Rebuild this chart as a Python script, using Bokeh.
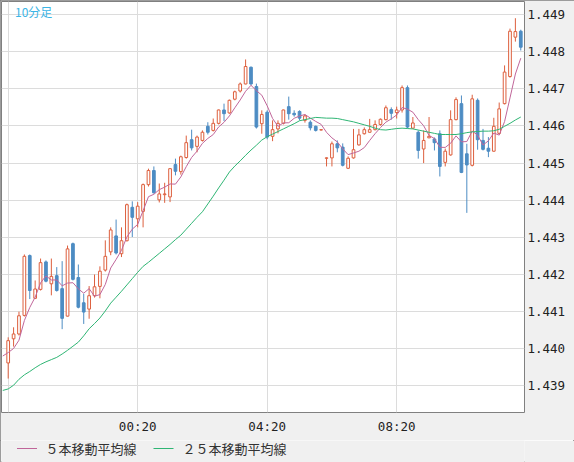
from bokeh.plotting import figure
from bokeh.layouts import column
from bokeh.models import Range1d, FixedTicker, Label, ColumnDataSource
from bokeh.core.properties import value
from bokeh.embed import file_html
from bokeh.resources import INLINE

# ---- data (10-minute bars, index 0 = 20:20) ----
bar_index = list(range(96))
opens = [1.43962, 1.44027, 1.44040, 1.44090, 1.44251, 1.44136, 1.44160, 1.44234, 1.44175, 1.44197,
         1.44162, 1.44088, 1.44283, 1.44192, 1.44124, 1.44107, 1.44143, 1.44168, 1.44212, 1.44261,
         1.44304, 1.44256, 1.44291, 1.44381, 1.44350, 1.44370, 1.44442, 1.44480, 1.44401, 1.44415,
         1.44409, 1.44496, 1.44477, 1.44515, 1.44563, 1.44545, 1.44561, 1.44599, 1.44588, 1.44607,
         1.44643, 1.44635, 1.44672, 1.44694, 1.44713, 1.44758, 1.44706, 1.44606, 1.44637, 1.44572,
         1.44592, 1.44607, 1.44652, 1.44634, 1.44639, 1.44615, 1.44610, 1.44599, 1.44589, 1.44513,
         1.44514, 1.44552, 1.44543, 1.44486, 1.44514, 1.44549, 1.44579, 1.44583, 1.44590, 1.44604,
         1.44617, 1.44644, 1.44636, 1.44643, 1.44703, 1.44594, 1.44583, 1.44538, 1.44568, 1.44565,
         1.44579, 1.44502, 1.44522, 1.44617, 1.44660, 1.44525, 1.44494, 1.44669, 1.44561, 1.44540,
         1.44532, 1.44580, 1.44660, 1.44733, 1.44839, 1.44855]
highs = [1.44031, 1.44058, 1.44100, 1.44254, 1.44254, 1.44184, 1.44243, 1.44238, 1.44243, 1.44220,
         1.44236, 1.44278, 1.44286, 1.44227, 1.44148, 1.44169, 1.44200, 1.44222, 1.44292, 1.44327,
         1.44348, 1.44327, 1.44391, 1.44397, 1.44395, 1.44445, 1.44485, 1.44491, 1.44445, 1.44447,
         1.44485, 1.44512, 1.44520, 1.44574, 1.44590, 1.44574, 1.44588, 1.44610, 1.44620, 1.44644,
         1.44660, 1.44671, 1.44695, 1.44717, 1.44779, 1.44760, 1.44714, 1.44642, 1.44642, 1.44615,
         1.44615, 1.44644, 1.44679, 1.44642, 1.44642, 1.44631, 1.44615, 1.44601, 1.44591, 1.44515,
         1.44558, 1.44561, 1.44553, 1.44518, 1.44592, 1.44592, 1.44596, 1.44619, 1.44615, 1.44620,
         1.44655, 1.44650, 1.44652, 1.44709, 1.44709, 1.44624, 1.44588, 1.44588, 1.44624, 1.44569,
         1.44588, 1.44539, 1.44642, 1.44677, 1.44682, 1.44552, 1.44684, 1.44674, 1.44592, 1.44570,
         1.44622, 1.44663, 1.44763, 1.44862, 1.44890, 1.44859]
lows = [1.43920, 1.44006, 1.44036, 1.44087, 1.44134, 1.44134, 1.44157, 1.44179, 1.44144, 1.44154,
        1.44053, 1.44087, 1.44184, 1.44109, 1.44067, 1.44081, 1.44138, 1.44136, 1.44208, 1.44252,
        1.44254, 1.44247, 1.44289, 1.44301, 1.44327, 1.44327, 1.44437, 1.44418, 1.44394, 1.44393,
        1.44395, 1.44467, 1.44469, 1.44512, 1.44534, 1.44529, 1.44558, 1.44577, 1.44585, 1.44604,
        1.44613, 1.44633, 1.44669, 1.44690, 1.44712, 1.44709, 1.44593, 1.44579, 1.44564, 1.44559,
        1.44580, 1.44604, 1.44617, 1.44625, 1.44615, 1.44609, 1.44588, 1.44585, 1.44588, 1.44491,
        1.44491, 1.44529, 1.44491, 1.44484, 1.44512, 1.44547, 1.44577, 1.44582, 1.44588, 1.44601,
        1.44615, 1.44617, 1.44620, 1.44636, 1.44593, 1.44593, 1.44512, 1.44500, 1.44567, 1.44534,
        1.44464, 1.44491, 1.44520, 1.44615, 1.44473, 1.44366, 1.44491, 1.44536, 1.44534, 1.44516,
        1.44531, 1.44580, 1.44658, 1.44730, 1.44827, 1.44803]
closes = [1.44022, 1.44040, 1.44089, 1.44249, 1.44157, 1.44161, 1.44232, 1.44182, 1.44195, 1.44157,
          1.44082, 1.44269, 1.44187, 1.44112, 1.44099, 1.44143, 1.44167, 1.44209, 1.44249, 1.44320,
          1.44258, 1.44291, 1.44388, 1.44354, 1.44384, 1.44442, 1.44480, 1.44420, 1.44417, 1.44417,
          1.44485, 1.44478, 1.44517, 1.44555, 1.44541, 1.44570, 1.44583, 1.44583, 1.44607, 1.44643,
          1.44633, 1.44669, 1.44692, 1.44713, 1.44760, 1.44713, 1.44597, 1.44631, 1.44570, 1.44590,
          1.44607, 1.44643, 1.44633, 1.44630, 1.44621, 1.44627, 1.44595, 1.44588, 1.44590, 1.44514,
          1.44552, 1.44541, 1.44494, 1.44513, 1.44536, 1.44576, 1.44590, 1.44590, 1.44604, 1.44618,
          1.44649, 1.44634, 1.44643, 1.44703, 1.44597, 1.44608, 1.44534, 1.44561, 1.44572, 1.44555,
          1.44491, 1.44532, 1.44617, 1.44671, 1.44475, 1.44495, 1.44673, 1.44563, 1.44537, 1.44532,
          1.44599, 1.44646, 1.44745, 1.44855, 1.44854, 1.44812]
# closes of the five bars before the visible window (estimated)
prior_closes = [1.43975, 1.43985, 1.43978, 1.43984, 1.43981]
# 25-bar moving average as drawn, bars -1 .. 95
ma25 = [1.43888, 1.43892, 1.43902, 1.43918, 1.43930, 1.43939, 1.43949, 1.43958, 1.43965, 1.43971,
        1.43977, 1.43986, 1.43996, 1.44007, 1.44018, 1.44035, 1.44054, 1.44068, 1.44083, 1.44102,
        1.44123, 1.44139, 1.44155, 1.44172, 1.44189, 1.44206, 1.44222, 1.44233, 1.44245, 1.44257,
        1.44269, 1.44281, 1.44294, 1.44306, 1.44322, 1.44338, 1.44354, 1.44369, 1.44390, 1.44411,
        1.44433, 1.44454, 1.44476, 1.44492, 1.44506, 1.44521, 1.44535, 1.44548, 1.44562, 1.44571,
        1.44578, 1.44585, 1.44592, 1.44599, 1.44606, 1.44614, 1.44617, 1.44620, 1.44623, 1.44622,
        1.44621, 1.44621, 1.44620, 1.44617, 1.44614, 1.44611, 1.44607, 1.44603, 1.44599, 1.44594,
        1.44590, 1.44589, 1.44591, 1.44593, 1.44594, 1.44593, 1.44592, 1.44589, 1.44586, 1.44583,
        1.44580, 1.44577, 1.44577, 1.44577, 1.44577, 1.44579, 1.44582, 1.44584, 1.44585, 1.44586,
        1.44586, 1.44587, 1.44591, 1.44599, 1.44607, 1.44616, 1.44624]
ma_index = list(range(-1, 96))

x_tick_pos = [0, 24, 48, 72]
x_tick_labels = ["", "00:20", "04:20", "08:20"]
y_ticks = [1.439, 1.440, 1.441, 1.442, 1.443, 1.444, 1.445, 1.446, 1.447, 1.448, 1.449]
y_tick_labels = ["1.439", "1.440", "1.441", "1.442", "1.443", "1.444", "1.445", "1.446", "1.447", "1.448", "1.449"]
ma_labels = ["５本移動平均線", "２５本移動平均線"]
ma_colors = ["#c0669a", "#2fb574"]
title_text = "10分足"

# 5-bar moving average of closes
all_closes = prior_closes + closes
ma5 = [sum(all_closes[k - 4:k + 1]) / 5 for k in range(4, len(all_closes))]

UP = "#dd5f3d"
DOWN = "#4d8cc3"
BG = "#f0f0f0"
EDGE = "#808080"

p = figure(width=574, height=440, x_range=Range1d(-1.24, 95.69), y_range=Range1d(1.438286, 1.44935),
           output_backend="svg", toolbar_location=None, y_axis_location="right",
           min_border_left=1, min_border_top=1, min_border_right=50, min_border_bottom=28)
p.background_fill_color = "white"
p.border_fill_color = BG
p.outline_line_color = EDGE

p.xgrid.ticker = FixedTicker(ticks=x_tick_pos)
p.ygrid.ticker = FixedTicker(ticks=y_ticks)
p.xgrid.grid_line_color = "#dcdcdc"
p.ygrid.grid_line_color = "#dcdcdc"

p.xaxis.ticker = FixedTicker(ticks=x_tick_pos)
p.xaxis.major_label_overrides = {t: l for t, l in zip(x_tick_pos, x_tick_labels)}
p.yaxis.ticker = FixedTicker(ticks=y_ticks)
p.yaxis.major_label_overrides = {t: l for t, l in zip(y_ticks, y_tick_labels)}
for ax in (p.xaxis[0], p.yaxis[0]):
    ax.axis_line_color = None
    ax.major_tick_line_color = None
    ax.minor_tick_line_color = None
    ax.major_tick_out = 0
    ax.major_tick_in = 0
    ax.major_label_text_font = "DejaVu Sans Mono"
    ax.major_label_text_font_size = "12.5px"
    ax.major_label_text_color = "#222222"
p.yaxis.major_label_standoff = 3
p.xaxis.major_label_standoff = 6

tops = [max(o, c) for o, c in zip(opens, closes)]
bottoms = [min(o, c) for o, c in zip(opens, closes)]
colors = [UP if c >= o else DOWN for o, c in zip(opens, closes)]
fills = ["white" if c >= o else DOWN for o, c in zip(opens, closes)]
src = ColumnDataSource(dict(x=bar_index, high=highs, low=lows, top=tops, bottom=bottoms,
                            color=colors, fill=fills))
p.segment(x0="x", y0="low", x1="x", y1="high", line_color="color", line_width=1, source=src)
p.vbar(x="x", top="top", bottom="bottom", width=0.5, fill_color="fill", line_color="color",
       line_width=1, source=src)

p.line(ma_index, ma5, line_color=ma_colors[0], line_width=1)
p.line(ma_index, ma25, line_color=ma_colors[1], line_width=1)

p.add_layout(Label(x=1.26, y=1.44930, text=title_text, text_font="Noto Sans CJK JP",
                   text_font_size="12px", text_color="#3bb5e6", text_baseline="top"))

# ---- legend strip below the chart; its frame matches the chart frame, data x = pixel x ----
leg = figure(width=574, height=22, x_range=Range1d(1, 524), y_range=Range1d(22, 0),
             output_backend="svg", toolbar_location=None, x_axis_type=None, y_axis_type=None,
             min_border_left=1, min_border_right=50, min_border_top=0, min_border_bottom=0)
leg.background_fill_color = BG
leg.border_fill_color = BG
leg.outline_line_color = None
leg.grid.visible = False
leg_line_x0 = [16.5, 153]
leg_text_x = [45, 182]
leg_y = [8, 8]
leg.segment(x0=leg_line_x0, y0=leg_y, x1=[x + 20 for x in leg_line_x0], y1=leg_y,
            line_color=ma_colors, line_width=1)
leg.text(x=leg_text_x, y=leg_y, text=ma_labels, text_font=value("Noto Sans CJK JP"),
         text_font_size="13px", text_color="#333333", text_baseline="middle", text_align="left")

layout = column(p, leg, spacing=0, styles={"outline": "1px solid #808080", "outline-offset": "-1px"})
open("out.html", "w").write(file_html(layout, INLINE))
